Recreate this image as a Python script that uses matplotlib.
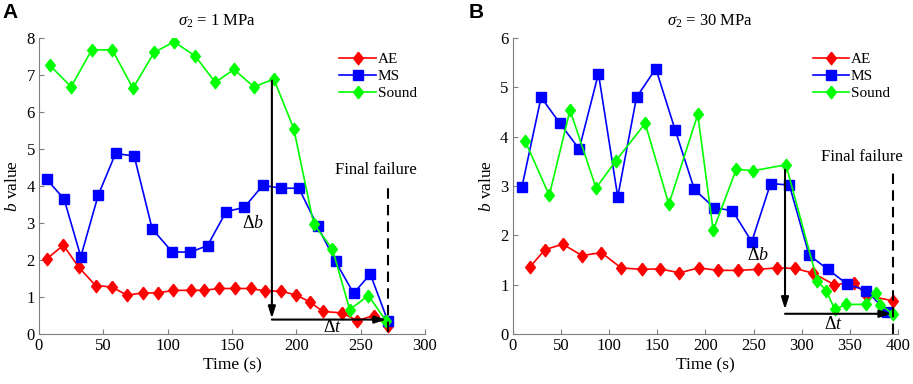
import matplotlib
matplotlib.use("Agg")
import matplotlib.pyplot as plt

# ---- data, panel A (sigma2 = 1 MPa)
a_ae_t = [6, 19, 31, 44, 56.5, 68.5, 80.5, 92.5, 104.5, 118, 128, 140, 152.5, 164.5, 176, 188, 200, 210.5, 220.5, 235.5, 247.5, 260, 271.5]
a_ae_b = [2.03, 2.40, 1.80, 1.31, 1.27, 1.05, 1.11, 1.11, 1.18, 1.18, 1.18, 1.23, 1.23, 1.23, 1.16, 1.16, 1.05, 0.87, 0.61, 0.57, 0.36, 0.50, 0.21]
a_ms_t = [6, 19.5, 32.5, 46, 59.5, 74, 88, 103.5, 117.5, 131, 145.5, 159.5, 174, 188, 202, 216.5, 230.5, 244.5, 257.5, 271]
a_ms_b = [4.18, 3.65, 2.09, 3.75, 4.88, 4.81, 2.84, 2.22, 2.21, 2.39, 3.31, 3.42, 4.02, 3.94, 3.94, 2.91, 1.96, 1.10, 1.62, 0.36]
a_snd_t = [8.5, 25, 41, 57, 73, 89.5, 105, 121.5, 137, 151.5, 167, 182.5, 198, 213.5, 228, 241.5, 256, 270]
a_snd_b = [7.26, 6.68, 7.68, 7.68, 6.64, 7.61, 7.90, 7.51, 6.80, 7.15, 6.68, 6.89, 5.55, 2.97, 2.30, 0.66, 1.04, 0.34]

# ---- data, panel B (sigma2 = 30 MPa)
b_ae_t = [18, 33.5, 52, 72, 92, 112.5, 134, 153, 173, 193, 213, 234, 254, 274, 293, 312, 333.5, 354, 367.5, 395]
b_ae_b = [1.36, 1.71, 1.82, 1.59, 1.65, 1.34, 1.31, 1.32, 1.24, 1.34, 1.29, 1.29, 1.31, 1.34, 1.33, 1.23, 1.00, 1.04, 0.78, 0.67]
b_ms_t = [9.5, 29.5, 49, 69, 89, 109, 128.5, 148.5, 168.5, 188.5, 209, 228, 248, 267.5, 287, 307.5, 327, 347, 367, 388]
b_ms_b = [2.97, 4.80, 4.27, 3.75, 5.28, 2.78, 4.80, 5.38, 4.14, 2.93, 2.56, 2.50, 1.87, 3.05, 3.02, 1.60, 1.31, 1.01, 0.88, 0.45]
b_snd_t = [13, 38, 59.5, 86.5, 107, 137.5, 162, 192, 208, 232, 249.5, 283.5, 316, 325.5, 334, 346, 366, 376.5, 381.5, 395]
b_snd_b = [3.91, 2.81, 4.54, 2.96, 3.51, 4.27, 2.63, 4.45, 2.10, 3.34, 3.31, 3.43, 1.08, 0.87, 0.50, 0.60, 0.60, 0.84, 0.59, 0.40]

titles = [r"$\sigma_2$ = 1 MPa", r"$\sigma_2$ = 30 MPa"]
panel_tags = ["A", "B"]

plt.rcParams["font.family"] = ["Liberation Serif", "DejaVu Serif"]
plt.rcParams["mathtext.fontset"] = "custom"
plt.rcParams["mathtext.rm"] = "Liberation Serif"
plt.rcParams["mathtext.it"] = "Liberation Serif:italic"

diamond = [(0, 1), (0.78, 0), (0, -1), (-0.78, 0), (0, 1)]
grey = "#7f7f7f"

fig = plt.figure(figsize=(9.13, 3.84), dpi=100)
ax1 = fig.add_axes([0.0427, 0.1302, 0.4228, 0.7708])
ax2 = fig.add_axes([0.5615, 0.1302, 0.4224, 0.7708])


def draw(ax, ae, ms, snd):
    ax.plot(ae[0], ae[1], color="#ff0000", lw=1.2, marker=diamond, ms=9, label="AE")
    ax.plot(ms[0], ms[1], color="#0000ff", lw=1.2, marker="s", ms=6.5, label="MS")
    ax.plot(snd[0], snd[1], color="#00ff00", lw=1.2, marker=diamond, ms=9, label="Sound")
    for s in ["top", "right"]:
        ax.spines[s].set_visible(False)
    for s in ["left", "bottom"]:
        ax.spines[s].set_color(grey)
    ax.tick_params(direction="in", color=grey, labelsize=12, length=3.5, pad=3)
    ax.set_xlabel("Time (s)", fontsize=12.5, labelpad=2)
    ax.set_ylabel(r"$b$ value", fontsize=12.5, labelpad=4)
    ax.legend(loc="upper left", bbox_to_anchor=(0.778, 0.952), frameon=False,
              fontsize=11, handlelength=2.4, handletextpad=0.1, labelspacing=0.22,
              borderpad=0, borderaxespad=0)


draw(ax1, (a_ae_t, a_ae_b), (a_ms_t, a_ms_b), (a_snd_t, a_snd_b))
draw(ax2, (b_ae_t, b_ae_b), (b_ms_t, b_ms_b), (b_snd_t, b_snd_b))

ax1.set_xlim(0, 300)
ax1.set_ylim(0, 8)
ax1.set_xticks(range(0, 301, 50))
ax2.set_xlim(0, 400)
ax2.set_ylim(0, 6)
ax2.set_xticks(range(0, 401, 50))

arrow = dict(arrowstyle="-|>,head_length=0.7,head_width=0.22", color="k", lw=1.5, shrinkA=0, shrinkB=0)

# panel A annotations
ax1.annotate("", xy=(181, 0.42), xytext=(181, 6.85), arrowprops=arrow)
ax1.annotate("", xy=(270, 0.39), xytext=(181, 0.39), arrowprops=arrow)
ax1.plot([271, 271], [0.05, 3.98], "k--", lw=1.5, dashes=(5, 3))
ax1.text(262, 4.22, "Final failure", fontsize=12, ha="center", va="bottom")
ax1.text(166, 3.0, r"$\Delta b$", fontsize=13, ha="center", va="center")
ax1.text(228, 0.17, r"$\Delta t$", fontsize=13, ha="center", va="center")

# panel B annotations
ax2.annotate("", xy=(282.5, 0.5), xytext=(282.5, 3.33), arrowprops=arrow)
ax2.annotate("", xy=(393, 0.41), xytext=(282.5, 0.41), arrowprops=arrow)
ax2.plot([395, 395], [0.0, 3.29], "k--", lw=1.5, dashes=(5, 3))
ax2.text(362, 3.42, "Final failure", fontsize=12, ha="center", va="bottom")
ax2.text(254, 1.6, r"$\Delta b$", fontsize=13, ha="center", va="center")
ax2.text(333, 0.19, r"$\Delta t$", fontsize=13, ha="center", va="center")

for ax, ttl, tx in [(ax1, titles[0], 0.461), (ax2, titles[1], 0.512)]:
    ax.text(tx, 1.058, ttl, transform=ax.transAxes, fontsize=12, ha="center", va="center")

fig.text(0.003, 0.968, panel_tags[0], fontsize=15, fontweight="bold", family="Liberation Sans", va="center")
fig.text(0.513, 0.968, panel_tags[1], fontsize=15, fontweight="bold", family="Liberation Sans", va="center")

fig.savefig("out.png", dpi=100)
